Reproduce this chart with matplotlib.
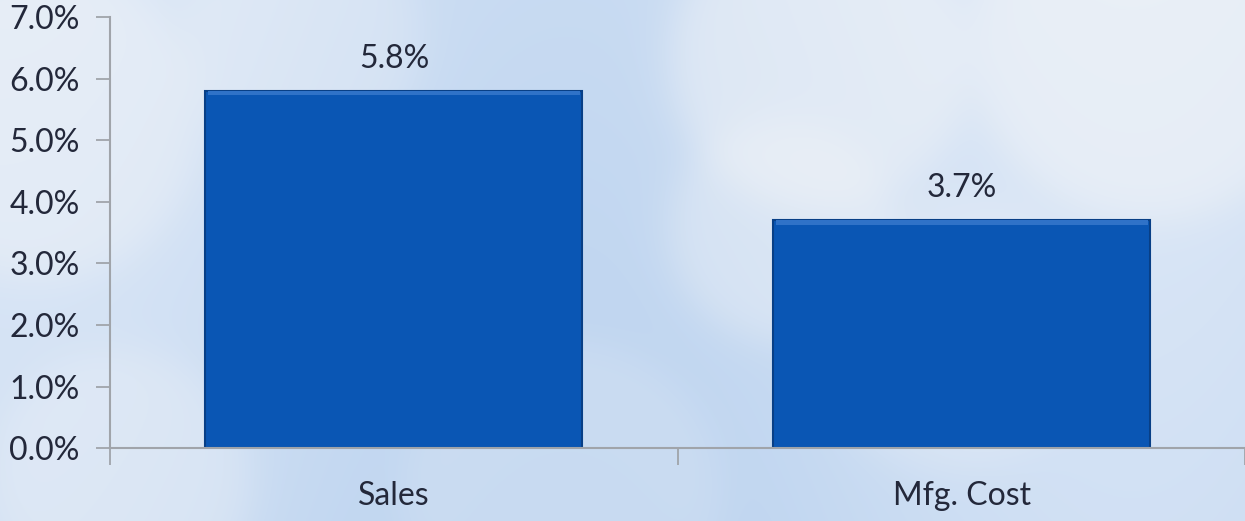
import numpy as np
import matplotlib.pyplot as plt
from matplotlib.ticker import FuncFormatter

# Data
categories = ["Sales", "Mfg. Cost"]
values = [5.8, 3.7]
y_ticks = [0, 1, 2, 3, 4, 5, 6, 7]

text_color = "#23283a"
bar_color = "#0a56b4"
edge_color = "#083f86"
font = dict(family="Lato", weight="normal")

fig = plt.figure(figsize=(12.45, 5.21), dpi=100)

# soft blue background with a few bokeh blobs
H, W = 521, 1245
yy, xx = np.mgrid[0:H, 0:W]
bg = np.zeros((H, W, 3))
base_light = np.array([0.93, 0.95, 0.98])
base_blue = np.array([0.74, 0.83, 0.94])
t = np.clip(0.55 - 0.45 * np.cos((xx / W) * np.pi * 2.2) * 0.5 + (yy / H) * 0.25, 0, 1)
for c in range(3):
    bg[..., c] = base_light[c] * (1 - t) + base_blue[c] * t
blobs = [(40, 120, 160, 0.35), (300, 40, 120, 0.25), (820, 60, 150, 0.45),
         (1150, 40, 180, 0.45), (780, 230, 110, 0.35), (950, 330, 140, 0.25),
         (120, 480, 130, 0.30), (560, 500, 160, 0.2)]
for bx, by, br, ba in blobs:
    d = np.sqrt((xx - bx) ** 2 + (yy - by) ** 2)
    m = ba / (1 + np.exp((d - br) / 12.0))
    for c in range(3):
        bg[..., c] = bg[..., c] * (1 - m) + 0.97 * m
bg_ax = fig.add_axes([0, 0, 1, 1], zorder=0)
bg_ax.imshow(np.clip(bg, 0, 1), aspect="auto", extent=[0, 1, 0, 1])
bg_ax.axis("off")

ax = fig.add_axes([0.0884, 0.140, 0.912, 0.827], zorder=1)
ax.patch.set_alpha(0)

x = np.arange(len(categories))
bars = ax.bar(x, values, width=0.664, color=bar_color, edgecolor=edge_color, linewidth=1.5, zorder=2)
# small top highlight for the bevel look
ax.bar(x, [0.07] * len(values), bottom=[v - 0.07 for v in values], width=0.655,
       color="#2f72c8", linewidth=0, zorder=3)

for xi, v in zip(x, values):
    ax.text(xi, v + 0.28, f"{v:.1f}%", ha="center", va="bottom", fontsize=23,
            color=text_color, **font)

ax.set_xlim(-0.5, len(categories) - 0.5)
ax.set_ylim(0, 7)
ax.set_yticks(y_ticks)
ax.yaxis.set_major_formatter(FuncFormatter(lambda v, p: f"{v:.1f}%"))
ax.set_xticks(x)
ax.set_xticklabels(categories)
ax.set_xticks([-0.5, 0.5, 1.5], minor=True)
ax.tick_params(axis="x", which="major", length=0, pad=24, labelsize=23, labelcolor=text_color)
ax.tick_params(axis="x", which="minor", length=12, width=1.3, color="#a0a4aa", direction="out")
ax.tick_params(axis="y", length=10, width=1.3, color="#a0a4aa", pad=12, labelsize=23, labelcolor=text_color)
for lab in ax.get_xticklabels() + ax.get_yticklabels():
    lab.set_family(font["family"])
    lab.set_weight(font["weight"])

for s in ["top", "right"]:
    ax.spines[s].set_visible(False)
for s in ["left", "bottom"]:
    ax.spines[s].set_color("#a0a4aa")
    ax.spines[s].set_linewidth(1.5)

fig.savefig("out.png", dpi=100)
